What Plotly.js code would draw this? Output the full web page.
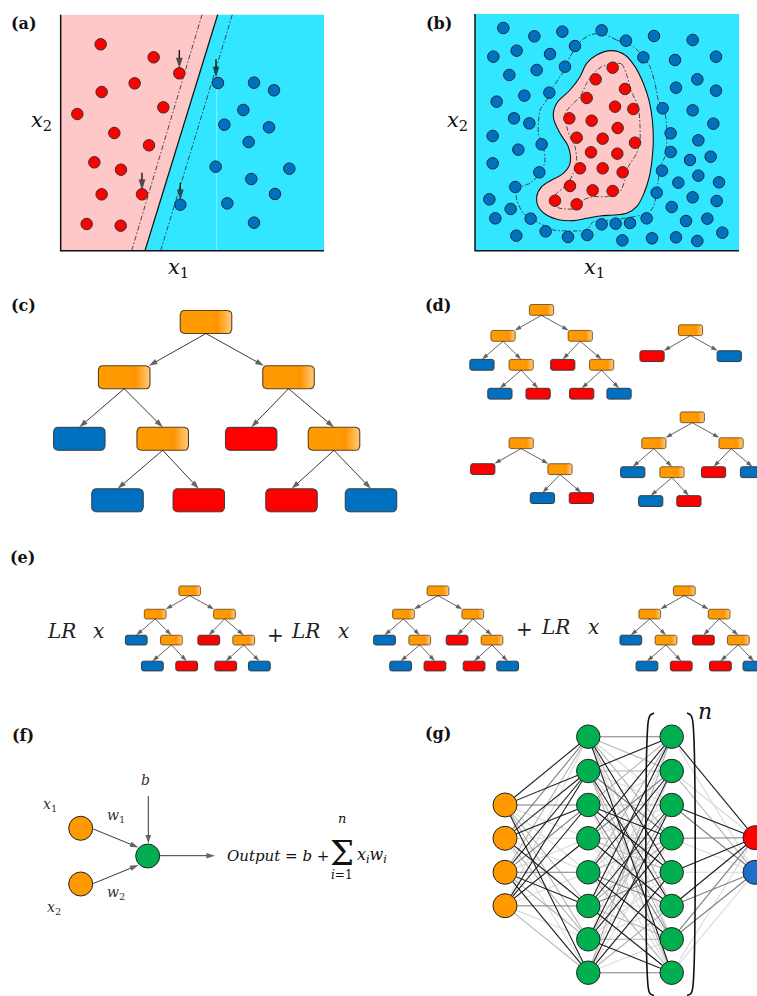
<!DOCTYPE html>
<html><head><meta charset="utf-8">
<script src="https://cdn.plot.ly/plotly-3.0.1.min.js"></script>
<style>html,body{margin:0;padding:0;background:#fff;overflow:hidden}</style>
</head><body><div id="chart" style="width:757px;height:996px"></div>
<script>
// ================= DATA =================
// Panel (a): linear SVM (panel units)
const svmRedX = [302,461,538,404,305,490,232,343,447,283,363,305,426,260,362];
const svmRedY = [133,172,220,250,276,322,342,399,436,487,509,583,583,672,677];
const svmBlueX = [654,762,822,730,673,807,746,647,868,754,825,541,682,762];
const svmBlueY = [249,248,271,330,374,382,426,500,506,537,582,614,610,668];
const svmBoundaryX = [435,653];
const svmMarginLowX = [395,606];
const svmMarginHighX = [482,697];
const svmLineY = [752,44];
const supportVecX = [538,648,426,541];
const supportArrowTail = [150,178,518,548];
const supportArrowTip = [205,232,570,600];
const frameA = {x0:182, x1:972, y0:44, y1:752};

// Panel (b): non-linear SVM (panel units)
const rbfRedX = [578,527,615,500,585,640,448,515,593,470,548,645,513,592,480,548,608,450,518,578,405,470];
const rbfRedY = [203,238,267,294,320,327,355,362,384,413,416,428,457,461,505,505,517,558,571,573,602,613];
const rbfBlueX = [250,343,427,545,465,618,702,818,220,290,390,670,765,888,268,350,435,832,768,888,230,313,388,728,818,282,328,880,218,295,365,752,835,752,810,872,218,358,726,835,775,897,286,710,818,890,208,272,755,226,332,680,545,587,630,798,862,289,377,444,502,607,696,768,832,907];
const rbfBlueY = [84,109,95,91,138,122,108,120,170,152,162,172,180,170,225,210,200,238,263,272,305,287,278,325,331,355,370,371,408,449,433,400,421,456,480,470,490,517,512,527,548,547,561,578,592,603,598,627,621,655,656,655,673,671,669,663,656,707,694,711,705,721,715,712,723,698];
const blobX = [575,615,645,670,688,697,700,696,688,672,650,620,580,540,500,460,420,380,355,350,365,395,430,450,445,420,400,410,450,480,500,530];
const blobY = [152,165,200,250,305,360,420,480,530,580,620,640,645,648,655,662,660,645,620,590,560,540,520,490,440,400,350,310,270,230,190,165];
const innerX = [575,605,622,632,655,660,660,650,625,615,600,560,520,490,475,420,395,410,440,460,470,465,450,440,435,455,480,500,520,545];
const innerY = [190,192,230,270,320,380,420,460,500,540,575,590,590,600,625,625,610,580,555,520,480,440,410,380,340,315,290,250,220,200];
const outerX = [545,590,640,670,690,705,715,735,740,740,735,720,715,710,700,685,640,580,520,500,460,400,350,310,290,290,330,365,375,370,355,360,380,400,430,450,480,510];
const outerY = [100,120,140,170,200,250,300,340,380,430,470,500,540,580,620,640,650,660,665,690,693,690,665,640,600,565,550,515,480,440,400,330,300,260,215,170,125,105];
const frameB = {x0:165, x1:957, y0:42, y1:752};

// Panels (c),(d),(e): decision trees
const slotDX = [0,-81.8,82.5,-126.7,-43.3,45.2,128,-88.5,-7.2,85.5,165];
const slotLevel = [0,1,1,2,2,2,2,3,3,3,3];
const levelDY = [0,55.2,116.8,178.3];
const slotParent = [-1,0,0,1,1,2,2,4,4,6,6];
const treeKinds = {full:'OOOBOROBRRB', stump:'ORB', partial:'ORO--BR', pruned:'OOOBORBBR'};
const treeRootX = [206,541.5,690.5,521.2,692.3,189.7,438,684.3];
const treeRootY = [322,309.9,330.2,443.2,417.3,590.8,590.8,590.8];
const treeScale = [1,0.47,0.47,0.47,0.47,0.422,0.422,0.422];
const treeKind = ['full','full','stump','partial','pruned','full','full','full'];

// Panel (e) text
const boostText = ['<i>LR</i>','<i>x</i>','+','<i>LR</i>','<i>x</i>','+','<i>LR</i>','<i>x</i>'];
const boostTextX = [61,98,275,305.5,343,524,555.5,593];
const boostTextY = [631,631,635,631,631,629,627,627];

// Panel (f): perceptron
const percInX = [80.7,80.7], percInY = [828.3,884];
const percNeuron = {x:147.7, y:856};
const percArrowTail = {x:[148.3,93.3,93.3,160], y:[796,829,883.5,855.7]};
const percArrowTip  = {x:[148.3,138.5,138.5,215], y:[843.5,847.5,865,855.7]};

// Panel (g): neural network
const nnLayerX = [505,588.3,671.7,755];
const nnInputY = [805,838.3,872.3,905.7];
const nnHiddenY = [736.7,771,805,838.3,872.3,906,939.3,972.7];
const nnOutputY = [837.7,872.3];
const nnInToH1Shade = ['33200113','23300310','13202313','03330201'];
const nnH1ToH2Shade = ['21013103','31020311','10133020','32011300','13010231','30312013','03130013','10303102'];
const nnH2ToOutShade = ['30','01','32','20','30','32','22','00'];

// ================= STYLE =================
const PINK = '#FFC8C8', CYAN = '#33E6FF', RED = '#FF0000', BLUE = '#0070C0';
const ORANGE = '#FF9900', GREEN = '#00B050';
const DASHDOT = '5px,2px,1.5px,2px';
const traces = [];
const ann = [];

// arrow helper: lines plus arrow-shaped markers pointing along the segment
function arrowTraces(tx, ty, hx, hy, axes, width, head, color){
  const x=[], y=[], sz=[];
  tx.forEach((_,i)=>{ x.push(tx[i], hx[i], null); y.push(ty[i], hy[i], null); sz.push(0, head, 0); });
  return Object.assign({type:'scatter', mode:'lines+markers', x, y,
    line:{color:color, width:width},
    marker:{symbol:'arrow', angleref:'previous', size:sz, color:color, line:{width:0}}}, axes);
}

// ---------- Panel (a) ----------
const A = {xaxis:'x2', yaxis:'y2', hoverinfo:'skip', showlegend:false};
traces.push(Object.assign({type:'scatter', mode:'lines', x:[frameA.x0, svmBoundaryX[1], svmBoundaryX[0], frameA.x0], y:[frameA.y0, frameA.y0, frameA.y1, frameA.y1], fill:'toself', fillcolor:PINK, line:{width:0}}, A));
traces.push(Object.assign({type:'scatter', mode:'lines', x:[svmBoundaryX[1], frameA.x1, frameA.x1, svmBoundaryX[0]], y:[frameA.y0, frameA.y0, frameA.y1, frameA.y1], fill:'toself', fillcolor:CYAN, line:{width:0}}, A));
traces.push(Object.assign({type:'scatter', mode:'lines', x:[650,650], y:[250,752], line:{color:'rgba(255,255,255,0.5)', width:0.8}}, A));
traces.push(Object.assign({type:'scatter', mode:'lines', x:[frameA.x0, frameA.x0, frameA.x1], y:[frameA.y0, frameA.y1, frameA.y1], line:{color:'#111', width:1.5}}, A));
traces.push(Object.assign({type:'scatter', mode:'lines', x:svmBoundaryX, y:svmLineY, line:{color:'#111', width:1.3}}, A));
traces.push(Object.assign({type:'scatter', mode:'lines', x:svmMarginLowX, y:svmLineY, line:{color:'#222', width:0.8, dash:DASHDOT}}, A));
traces.push(Object.assign({type:'scatter', mode:'lines', x:svmMarginHighX, y:svmLineY, line:{color:'#222', width:0.8, dash:DASHDOT}}, A));
traces.push(Object.assign({type:'scatter', mode:'markers', x:svmRedX, y:svmRedY, marker:{size:11.5, color:RED, line:{color:'#333', width:1}}}, A));
traces.push(Object.assign({type:'scatter', mode:'markers', x:svmBlueX, y:svmBlueY, marker:{size:11.5, color:BLUE, line:{color:'#1b2a40', width:1}}}, A));
traces.push(arrowTraces(supportVecX, supportArrowTail, supportVecX, supportArrowTip, A, 1.4, 11, '#111'));

// ---------- Panel (b) ----------
const B = {xaxis:'x3', yaxis:'y3', hoverinfo:'skip', showlegend:false};
const close = a => a.concat([a[0]]);
traces.push(Object.assign({type:'scatter', mode:'lines', x:[frameB.x0,frameB.x1,frameB.x1,frameB.x0], y:[frameB.y0,frameB.y0,frameB.y1,frameB.y1], fill:'toself', fillcolor:CYAN, line:{width:0}}, B));
traces.push(Object.assign({type:'scatter', mode:'lines', x:close(outerX), y:close(outerY), line:{color:'#222', width:0.8, dash:DASHDOT, shape:'spline', smoothing:0.6}}, B));
traces.push(Object.assign({type:'scatter', mode:'lines', x:close(blobX), y:close(blobY), fill:'toself', fillcolor:PINK, line:{color:'#111', width:1.1, shape:'spline', smoothing:1}}, B));
traces.push(Object.assign({type:'scatter', mode:'lines', x:close(innerX), y:close(innerY), line:{color:'#222', width:0.8, dash:DASHDOT, shape:'spline', smoothing:0.6}}, B));
traces.push(Object.assign({type:'scatter', mode:'lines', x:[frameB.x0, frameB.x0, frameB.x1], y:[frameB.y0, frameB.y1, frameB.y1], line:{color:'#111', width:1.5}}, B));
traces.push(Object.assign({type:'scatter', mode:'markers', x:rbfBlueX, y:rbfBlueY, marker:{size:11.5, color:BLUE, line:{color:'#1b2a40', width:1}}}, B));
traces.push(Object.assign({type:'scatter', mode:'markers', x:rbfRedX, y:rbfRedY, marker:{size:11.5, color:RED, line:{color:'#333', width:1}}}, B));

// ---------- Trees ----------
function roundRect(cx, cy, w, h, r){
  const x0=cx-w/2, x1=cx+w/2, y0=cy-h/2, y1=cy+h/2;
  const xs=[], ys=[];
  const corners=[[x1-r,y0+r,-90,0],[x1-r,y1-r,0,90],[x0+r,y1-r,90,180],[x0+r,y0+r,180,270]];
  corners.forEach(([ccx,ccy,a0,a1])=>{
    for(let k=0;k<=4;k++){const a=(a0+(a1-a0)*k/4)*Math.PI/180; xs.push(ccx+r*Math.cos(a)); ys.push(ccy+r*Math.sin(a));}
  });
  xs.push(xs[0]); ys.push(ys[0]);
  return {xs, ys, x0, x1};
}
const M = {xaxis:'x', yaxis:'y', hoverinfo:'skip', showlegend:false};
const blueBox = {x:[], y:[]}, redBox = {x:[], y:[]};
const orangeTraces = [];
const bigArr = {tx:[],ty:[],hx:[],hy:[]}, smallArr = {tx:[],ty:[],hx:[],hy:[]};
treeRootX.forEach((rx, t)=>{
  const s = treeScale[t], ry = treeRootY[t];
  const colors = treeKinds[treeKind[t]];
  const w = 51.5*s, h = 23*s, r = Math.max(4*s, 2);
  const lw = s < 0.6 ? 0.8 : 1.1;
  const pos = slotDX.map((dx,k)=>({x: rx + dx*s, y: ry + levelDY[slotLevel[k]]*s}));
  for(let k=0;k<colors.length;k++){
    const c = colors[k];
    if(c==='-') continue;
    const rr = roundRect(pos[k].x, pos[k].y, w, h, r);
    if(c==='O'){
      orangeTraces.push(Object.assign({type:'scatter', mode:'lines', x:rr.xs, y:rr.ys, fill:'toself',
        fillgradient:{type:'horizontal', start:rr.x0, stop:rr.x1, colorscale:[[0,'#FF9A00'],[0.6,'#FF9A00'],[0.72,'#FF9200'],[0.9,'#FFB94F'],[1,'#FFCB78']]},
        line:{color:'#5b4122', width:lw}}, M));
    } else {
      const tgt = c==='B' ? blueBox : redBox;
      tgt.x.push(...rr.xs, null); tgt.y.push(...rr.ys, null);
    }
    const p = slotParent[k];
    if(p >= 0){
      const px = pos[p].x, py = pos[p].y + h/2;
      const dx = pos[k].x - px;
      let ex = pos[k].x;
      if(Math.abs(dx) > w) ex = pos[k].x - Math.sign(dx)*w*0.48;
      const ey = pos[k].y - h/2;
      const tgtA = s < 0.6 ? smallArr : bigArr;
      tgtA.tx.push(px); tgtA.ty.push(py); tgtA.hx.push(ex); tgtA.hy.push(ey);
    }
  }
});
traces.push(Object.assign({type:'scatter', mode:'lines', x:blueBox.x, y:blueBox.y, fill:'toself', fillcolor:BLUE, line:{color:'#3a3a3a', width:1}}, M));
traces.push(Object.assign({type:'scatter', mode:'lines', x:redBox.x, y:redBox.y, fill:'toself', fillcolor:RED, line:{color:'#3a3a3a', width:1}}, M));
orangeTraces.forEach(tr=>traces.push(tr));
traces.push(arrowTraces(bigArr.tx, bigArr.ty, bigArr.hx, bigArr.hy, M, 0.9, 9, '#222'));
traces.push(arrowTraces(smallArr.tx, smallArr.ty, smallArr.hx, smallArr.hy, M, 0.7, 7, '#222'));

// ---------- Panel (g): network ----------
const shadeColor = ['#dadada','#b4b4b4','#7f7f7f','#1c1c1c'];
const edgeSets = [[],[],[],[]].map(()=>({x:[], y:[]}));
function addEdges(x0, ys0, x1, ys1, shades){
  ys0.forEach((ya,i)=>ys1.forEach((yb,j)=>{
    const sh = +shades[i][j];
    edgeSets[sh].x.push(x0, x1, null); edgeSets[sh].y.push(ya, yb, null);
  }));
}
addEdges(nnLayerX[0], nnInputY, nnLayerX[1], nnHiddenY, nnInToH1Shade);
addEdges(nnLayerX[1], nnHiddenY, nnLayerX[2], nnHiddenY, nnH1ToH2Shade);
addEdges(nnLayerX[2], nnHiddenY, nnLayerX[3], nnOutputY, nnH2ToOutShade);
edgeSets.forEach((e,k)=>traces.push(Object.assign({type:'scatter', mode:'lines', x:e.x, y:e.y, line:{color:shadeColor[k], width:1.1}}, M)));
// bracket
traces.push(Object.assign({type:'scatter', mode:'lines', x:[654,650,648.3,648.3,650,654], y:[713,715.5,721,988,993.5,995.5], line:{color:'#111', width:1.6, shape:'spline'}}, M));
traces.push(Object.assign({type:'scatter', mode:'lines', x:[687,691,692.7,692.7,691,687], y:[713,715.5,721,988,993.5,995.5], line:{color:'#111', width:1.6, shape:'spline'}}, M));
traces.push(Object.assign({type:'scatter', mode:'markers', x:nnInputY.map(()=>nnLayerX[0]), y:nnInputY, marker:{size:24, color:ORANGE, line:{color:'#222', width:1}}}, M));
traces.push(Object.assign({type:'scatter', mode:'markers', x:nnHiddenY.map(()=>nnLayerX[1]).concat(nnHiddenY.map(()=>nnLayerX[2])), y:nnHiddenY.concat(nnHiddenY), marker:{size:23.5, color:GREEN, line:{color:'#222', width:1}}}, M));
traces.push(Object.assign({type:'scatter', mode:'markers', x:[nnLayerX[3], nnLayerX[3]], y:nnOutputY, marker:{size:24, color:[RED,'#1E6FCC'], line:{color:'#222', width:1}}, cliponaxis:false}, M));

// ---------- Panel (f): perceptron ----------
traces.push(arrowTraces(percArrowTail.x, percArrowTail.y, percArrowTip.x, percArrowTip.y, M, 0.9, 9, '#222'));
traces.push(Object.assign({type:'scatter', mode:'markers', x:percInX, y:percInY, marker:{size:24, color:ORANGE, line:{color:'#222', width:1}}}, M));
traces.push(Object.assign({type:'scatter', mode:'markers', x:[percNeuron.x], y:[percNeuron.y], marker:{size:24, color:GREEN, line:{color:'#222', width:1}}}, M));

// ---------- Text ----------
function txt(text, x, y, size, opts){
  ann.push(Object.assign({xref:'x', yref:'y', x:x, y:y, text:text, showarrow:false, xanchor:'center', yanchor:'middle',
    font:{family:'DejaVu Serif', size:size, color:'#111'}}, opts||{}));
}
const panelLab = [['(a)',24,23],['(b)',438.5,23],['(c)',23,305],['(d)',438,305],['(e)',22,557],['(f)',23,735],['(g)',437.5,733]];
panelLab.forEach(p=>txt('<b>'+p[0]+'</b>', p[1], p[2], 16));
txt('<i>x</i><sub>2</sub>', 41, 121, 21);
txt('<i>x</i><sub>1</sub>', 178, 268, 21);
txt('<i>x</i><sub>2</sub>', 457, 121, 21);
txt('<i>x</i><sub>1</sub>', 594, 268, 21);
boostText.forEach((t,i)=>txt(t, boostTextX[i], boostTextY[i], 20, {font:{family:'DejaVu Serif', size:20, color:'#222'}}));
// perceptron labels
const lab14 = {font:{family:'DejaVu Serif', size:14, color:'#333'}};
txt('<i>x</i><sub>1</sub>', 50, 805, 14, lab14);
txt('<i>x</i><sub>2</sub>', 54, 908, 14, lab14);
txt('<i>w</i><sub>1</sub>', 116, 816, 14, lab14);
txt('<i>w</i><sub>2</sub>', 116, 893, 14, lab14);
txt('<i>b</i>', 145.5, 780, 14, lab14);
txt('<i>Output</i> = <i>b</i> +', 225, 855.7, 15, {xanchor:'left'});
txt('Σ', 341.7, 853, 34);
txt('<i>n</i>', 341.7, 818.5, 13);
txt('<i>i</i>=1', 341.7, 875, 12);
txt('<i>x<sub>i</sub>w<sub>i</sub></i>', 355, 855.7, 16, {xanchor:'left'});
txt('<i>n</i>', 705, 711.5, 22);

const layout = {
  width:757, height:996, margin:{l:0,r:0,t:0,b:0,pad:0},
  paper_bgcolor:'#ffffff', plot_bgcolor:'rgba(0,0,0,0)', showlegend:false,
  font:{family:'DejaVu Serif', color:'#111'},
  xaxis:{range:[0,757], domain:[0,1], visible:false, anchor:'y'},
  yaxis:{range:[996,0], domain:[0,1], visible:false, anchor:'x'},
  xaxis2:{range:[0,1020], domain:[0,340/757], visible:false, anchor:'y2'},
  yaxis2:{range:[840,0], domain:[1-280/996,1], visible:false, anchor:'x2'},
  xaxis3:{range:[0,1011], domain:[420/757,1], visible:false, anchor:'y3'},
  yaxis3:{range:[840,0], domain:[1-280/996,1], visible:false, anchor:'x3'},
  annotations:ann
};
Plotly.newPlot('chart', traces, layout, {staticPlot:true, displayModeBar:false});
</script></body></html>
